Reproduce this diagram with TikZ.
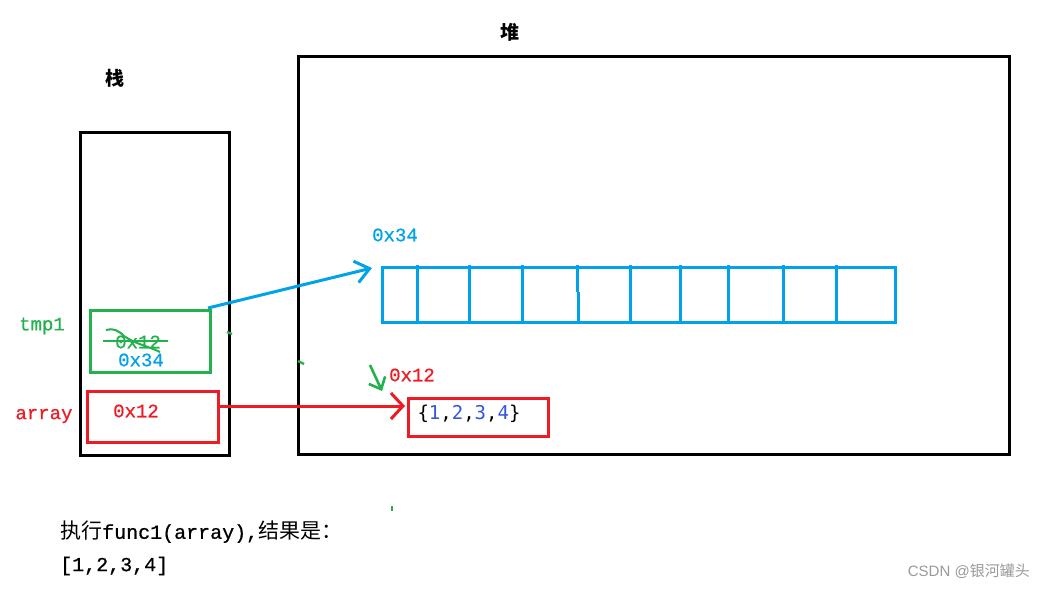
\documentclass[tikz,border=0pt]{standalone}
\usepackage{fontspec}
\setmainfont{Liberation Mono}[BoldFont=Liberation Mono,BoldFeatures={FakeBold=0.7}]
\newfontfamily\cjk{Noto Sans CJK SC}
\newfontfamily\dvm{DejaVu Sans Mono}
\newfontfamily\wmfont{Liberation Sans}
\usetikzlibrary{arrows.meta}
\definecolor{cgreen}{HTML}{22B14C}
\definecolor{cblue}{HTML}{00A2E8}
\definecolor{cred}{HTML}{ED1C24}
\definecolor{cdig}{HTML}{3355DD}
\definecolor{cwm}{HTML}{9A9A9A}
\tikzset{
  frame/.style={draw=black,line width=3pt},
  gbox/.style={draw=cgreen,line width=3pt},
  rbox/.style={draw=cred,line width=3pt},
  bbox/.style={draw=cblue,line width=3pt},
  lbl/.style={inner sep=0pt,font=\bfseries\fontsize{19}{22}\selectfont},
  title/.style={inner sep=0pt,font=\cjk\bfseries\fontsize{19}{22}\selectfont},
  tick/.style={draw=cgreen,line width=2.4pt},
}
\begin{document}
\begin{tikzpicture}[x=1pt,y=-1pt]
\useasboundingbox[fill=white] (0,0) rectangle (1045,589);
% titles
\node[title] (heapt) at (510,32) {堆};
\node[title] (stackt) at (115,78) {栈};
% frames
\draw[frame] (80,132) rectangle (229,455);
\draw[frame] (298,56) rectangle (1009,454);
% stack labels
\node[lbl,text=cgreen] (tmpl) at (42,326) {tmp1};
\node[lbl,text=cred] (arrl) at (44,416) {array};
% green box
\node[gbox,minimum width=120pt,minimum height=62pt,inner sep=0pt] (tmp) at (150,341) {};
\node[lbl,text=cgreen] (old) at (138,342) {0x12};
\node[lbl,text=cblue] (new) at (141,360) {0x34};
\draw[cgreen,line width=1.3pt] (103,341) -- (168,341);
\draw[cgreen,line width=2pt] (106,330) .. controls (113,328) and (118,330) .. (124,336) .. controls (135,344) and (148,346) .. (160,352);
% red box
\node[rbox,minimum width=131pt,minimum height=51pt,inner sep=0pt] (arr) at (152.5,416.5) {};
\node[lbl,text=cred] (arrv) at (136,411) {0x12};
% blue array
\node[bbox,minimum width=513pt,minimum height=55pt,inner sep=0pt] (heaparr) at (638.5,294.5) {};
\foreach \xx in {417,469,522,630,680,728,783,836}{
  \draw[cblue,line width=3pt] (\xx,265) -- (\xx,324);
}
\draw[cblue,line width=3pt] (577,265) -- (577,292);
\draw[cblue,line width=3pt] (578,292) -- (578,324);
\node[lbl,text=cblue] (addr34) at (395,235) {0x34};
% small red box
\node[rbox,minimum width=140pt,minimum height=38pt,inner sep=0pt] (lst) at (478,417) {};
\node[inner sep=0pt,font=\dvm\fontsize{19}{22}\selectfont] (lsttxt) at (469,414) {\{\textcolor{cdig}{1},\textcolor{cdig}{2},\textcolor{cdig}{3},\textcolor{cdig}{4}\}};
\node[lbl,text=cred] (addr12) at (412,375) {0x12};
% arrows
\coordinate (bs) at (208,308);
\coordinate (bt) at (372,268);
\draw[cblue,line width=3pt,-{Straight Barb[length=14pt,width=22pt,line width=3pt]}] (bs) -- (bt);
\coordinate (rs) at (220,406);
\coordinate (rt) at (405,406);
\draw[cred,line width=3pt,-{Straight Barb[length=12pt,width=26pt,line width=3pt]}] (rs) -- (rt);
\coordinate (gs) at (370,365);
\coordinate (gt) at (382,391);
\draw[cgreen,line width=2.6pt,-{Straight Barb[length=10pt,width=18pt,line width=2.6pt]}] (gs) -- (gt);
% stray ticks
\draw[tick] (227,332) -- (232,334);
\draw[tick] (298,361) -- (304,364);
\draw[tick] (392,506) -- (392,511);
% bottom text
\node[inner sep=0pt,anchor=west,font=\bfseries\fontsize{20}{24}\selectfont] (res1) at (60,532) {{\cjk\mdseries\fontsize{21}{24}\selectfont 执行}func1(array),{\cjk\mdseries\fontsize{21}{24}\selectfont 结果是：}};
\node[inner sep=0pt,anchor=west,font=\bfseries\fontsize{20}{24}\selectfont] (res2) at (60,566) {[1,2,3,4]};
% watermark
\node[inner sep=0pt,anchor=east,text=cwm,font=\wmfont\fontsize{15}{18}\selectfont] (wm) at (1030,571) {CSDN @{\cjk 银河罐头}};
\end{tikzpicture}
\end{document}
